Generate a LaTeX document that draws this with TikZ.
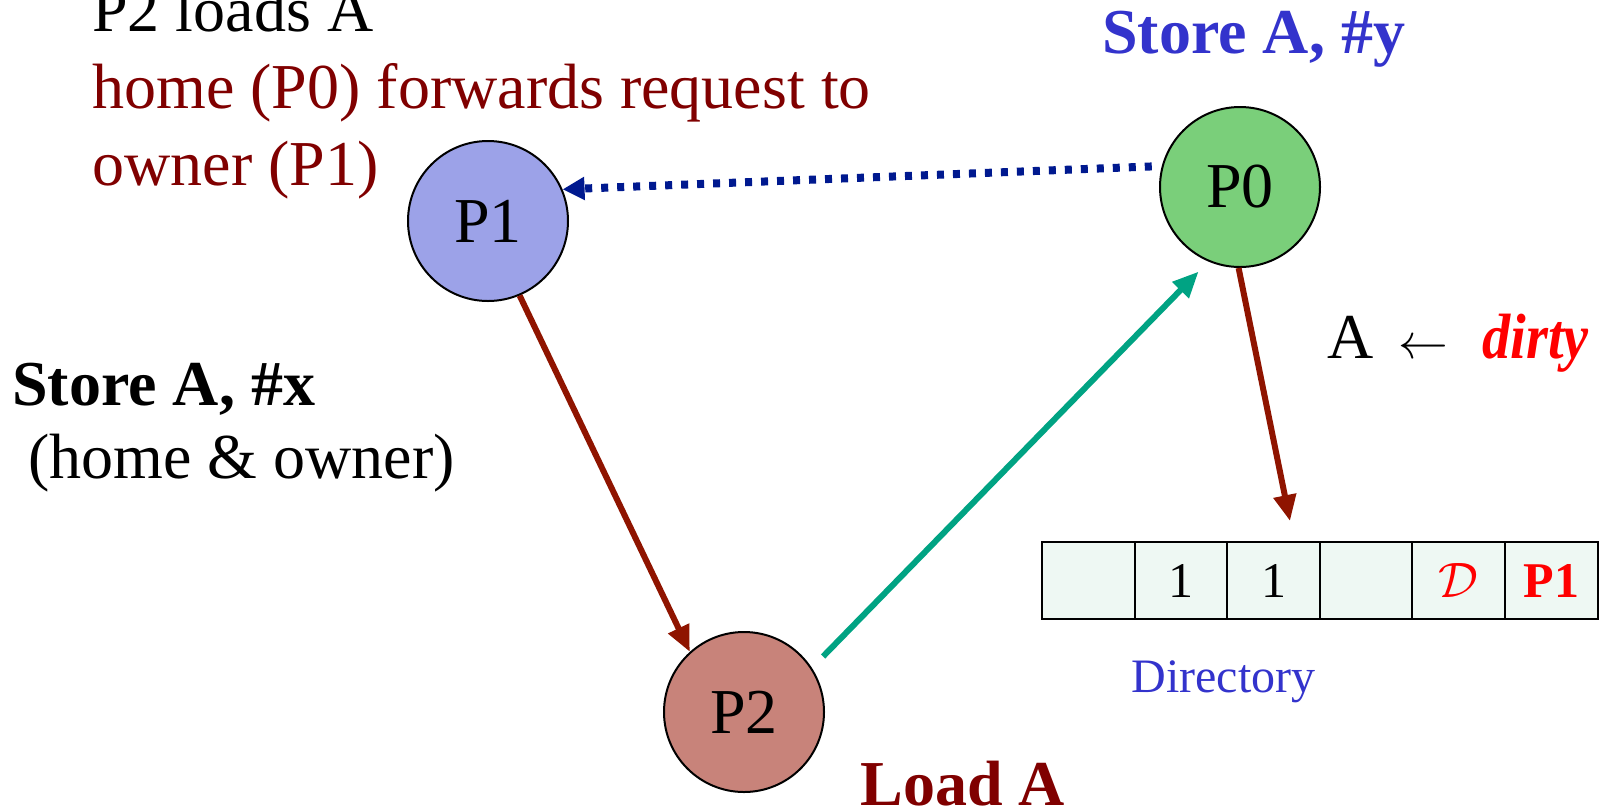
\documentclass[tikz,border=0pt]{standalone}
\usepackage{fontspec}
\usepackage{graphicx}
\setmainfont{Liberation Serif}
\usetikzlibrary{arrows.meta,positioning}
\definecolor{MsgRed}{HTML}{800000}
\definecolor{ArrRed}{HTML}{8F1400}
\definecolor{ArrTeal}{HTML}{00A383}
\definecolor{ArrNavy}{HTML}{00198F}
\definecolor{StoreBlue}{HTML}{3333CC}
\definecolor{DirFill}{HTML}{EEF8F3}
\definecolor{FillP0}{HTML}{7ACF7A}
\definecolor{FillP1}{HTML}{9CA2E8}
\definecolor{FillP2}{HTML}{C8837A}

\begin{document}
\begin{tikzpicture}[x=0.5pt,y=-0.5pt,
  proc/.style={circle,draw=black,line width=1pt,minimum size=80pt,inner sep=0pt,font=\fontsize{32}{36}\selectfont},
  txt/.style={anchor=base west,inner sep=0pt,font=\fontsize{32}{36}\selectfont},
  dircell/.style={draw=black,fill=DirFill,line width=1pt,minimum width=46.3pt,minimum height=38.5pt,inner sep=0pt,outer sep=0pt,font=\fontsize{25}{30}\selectfont},
  msg/.style={line width=3pt,-{Triangle[length=13pt,width=11pt]}}]
\path[use as bounding box] (0,0) rectangle (1602,810);
% processors
\node[proc,fill=FillP1] (p1) at (488,221) {P1};
\node[proc,fill=FillP0] (p0) at (1240,187) {P0};
\node[proc,fill=FillP2] (p2) at (744,712) {P2};
% texts
\node[txt] (head1) at (92,31) {P2 loads A};
\node[txt,text=MsgRed] (head2) at (92,108) {home (P0) forwards request to};
\node[txt,text=MsgRed] (head3) at (92,185) {owner (P1)};
\node[txt,font=\fontsize{32}{36}\selectfont\bfseries] (storex) at (12,405) {Store A, \#x};
\node[txt] (owner) at (28,478) {(home \& owner)};
\node[txt,text=StoreBlue,font=\fontsize{32}{36}\selectfont\bfseries] (storey) at (1102,53) {Store A, \#y};
\node[txt,text=MsgRed,font=\fontsize{32}{36}\selectfont\bfseries] (load) at (860,805) {Load A};
\node[txt] (dirtyA) at (1327,358) {A};
\node[txt] (dirtyarrow) at (1398,358) {$\leftarrow$};
\node[txt,text=red,font=\fontsize{32}{36}\selectfont\bfseries\itshape] (dirtyword) at (1482,358) {\scalebox{0.88}[1]{dirty}};
% directory
\node[dircell,anchor=north west] (d1) at (1042,542) {};
\node[dircell,right=0pt of d1] (d2) {1};
\node[dircell,right=0pt of d2] (d3) {1};
\node[dircell,right=0pt of d3] (d4) {};
\node[dircell,right=0pt of d4,text=red] (d5) {$\mathcal{D}$};
\node[dircell,right=0pt of d5,text=red,font=\fontsize{25}{30}\selectfont\bfseries] (d6) {P1};
\node[txt,text=StoreBlue,font=\fontsize{24}{28}\selectfont] (dirlabel) at (1131,692) {Directory};
\coordinate (dirtop) at (1290,521);
% messages
\draw[msg,ArrRed] (p1.-67) -- (p2.132);
\draw[msg,ArrTeal,shorten <=8pt,shorten >=7pt] (p2.33) -- (p0.-113);
\draw[ArrNavy,line width=4pt,dash pattern=on 3.5pt off 4.5pt,-{Triangle[length=11pt,width=11pt]},shorten <=5pt] (p0.165) -- (p1.23);
\draw[msg,ArrRed] (p0.-91) -- (dirtop);
\end{tikzpicture}
\end{document}
